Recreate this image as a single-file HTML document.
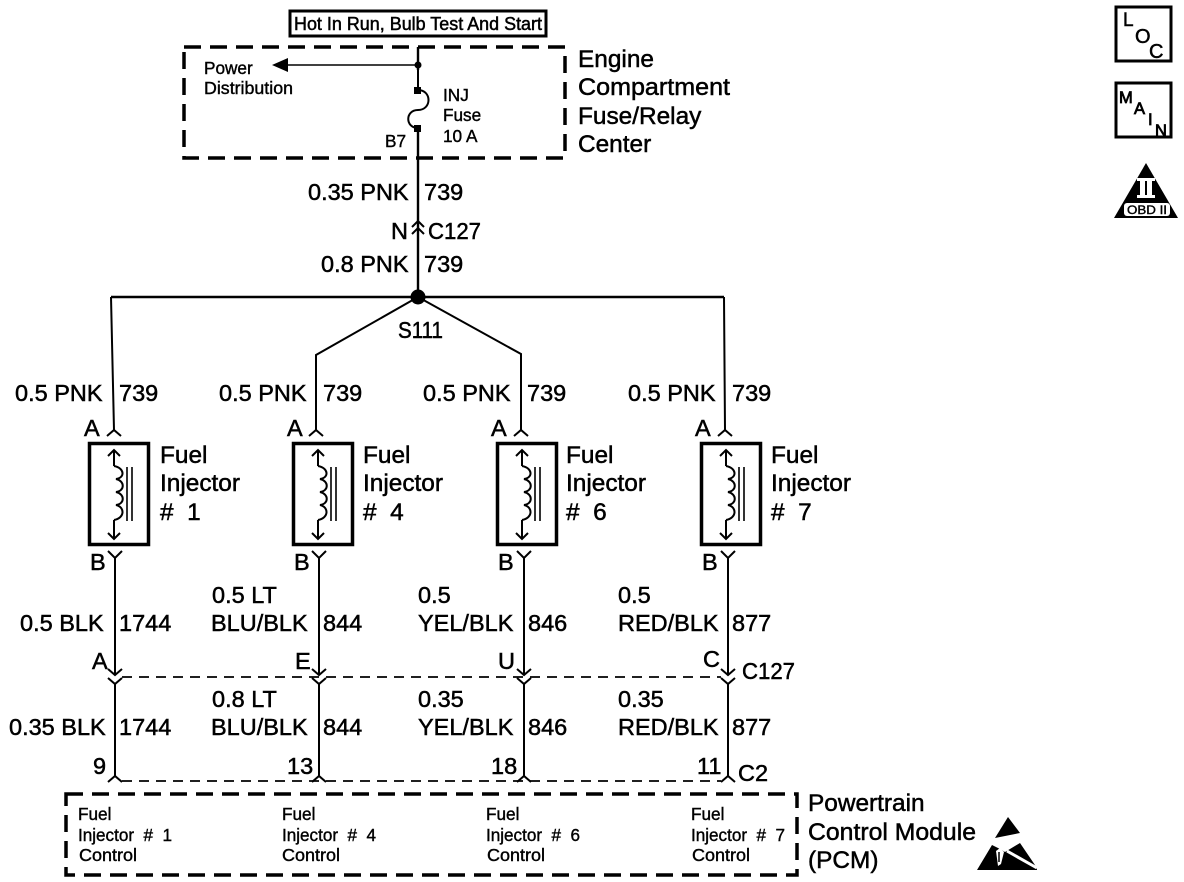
<!DOCTYPE html>
<html><head><meta charset="utf-8"><style>
html,body{margin:0;padding:0;background:#fff}
svg{display:block}
text{font-family:"Liberation Sans",sans-serif;fill:#000;stroke:#000;stroke-width:.5}
.l{font-size:24.4px}
.w{font-size:23.5px}
.s{font-size:17.2px;stroke-width:.4}
.t{font-size:18.5px}
.line{fill:none;stroke:#000;stroke-width:2}
.dash{fill:none;stroke:#000;stroke-width:1.8;stroke-dasharray:10 7}
.tdash{fill:none;stroke:#000;stroke-width:3.5;stroke-dasharray:17 9}
</style></head><body>
<svg width="1184" height="882" viewBox="0 0 1184 882" xmlns="http://www.w3.org/2000/svg">
<defs>
<g id="inj">
<rect x="1.5" y="1.5" width="59" height="101" fill="none" stroke="#000" stroke-width="3.5"/>
<path class="line" d="M26 8V24 M20 14L26 8L32 14 M26 97V78 M20 91L26 97L32 91"/>
<path class="line" d="M26 24C37 26 37 36 28 37C37 39 37 49 28 50C37 52 37 62 28 63C37 65 37 76 26 78"/>
<path class="line" style="stroke-width:1.6" d="M39 25V79 M44 25V79"/>
</g>
<g id="low">
<path class="line" d="M0 0V117 M-7 111L0 117L7 111 M-7 120L0 126L7 120 M0 126V218 M-7 224L0 218L7 224"/>
</g>
</defs>

<rect x="290" y="11" width="256" height="25" fill="none" stroke="#000" stroke-width="3"/>
<text class="t" x="294" y="30" textLength="248" lengthAdjust="spacingAndGlyphs">Hot In Run, Bulb Test And Start</text>

<rect x="184" y="47" width="381" height="111" class="tdash"/>
<path d="M418 47V297" fill="none" stroke="#000" stroke-width="2.4"/>
<rect x="412" y="70" width="12" height="62" fill="#fff"/>
<path class="line" d="M418 47V92 M418 128V160"/>
<circle cx="418" cy="65" r="3.5"/>
<rect x="414" y="87" width="7" height="7"/>
<rect x="414" y="125" width="7" height="7"/>
<path class="line" d="M418 90C432 90 432 110 418 110C405 110 405 128 418 128"/>
<path d="M418 65H286" fill="none" stroke="#000" stroke-width="1.4"/>
<path d="M272 65L288 58V72Z"/>
<text class="s" x="204" y="74">Power</text>
<text class="s" x="204" y="94" textLength="89" lengthAdjust="spacingAndGlyphs">Distribution</text>
<text class="s" x="443" y="101">INJ</text>
<text class="s" x="443" y="121">Fuse</text>
<text class="s" x="443" y="142">10 A</text>
<text class="s" x="385" y="147">B7</text>

<text class="l" x="578" y="67">Engine</text>
<text class="l" x="578" y="95" textLength="152" lengthAdjust="spacingAndGlyphs">Compartment</text>
<text class="l" x="578" y="124">Fuse/Relay</text>
<text class="l" x="578" y="152">Center</text>

<text class="w" x="308" y="200">0.35 PNK</text>
<text class="w" x="424" y="200">739</text>
<text class="w" x="391" y="239">N</text>
<text class="w" x="428" y="239" textLength="53" lengthAdjust="spacingAndGlyphs">C127</text>
<path class="line" d="M412 227L418 221L424 227 M412 234L418 228L424 234"/>
<text class="w" x="321" y="272">0.8 PNK</text>
<text class="w" x="424" y="272">739</text>

<circle cx="418" cy="297" r="7.5"/>
<path class="line" style="stroke-width:2.6" d="M111 297H724"/>
<path class="line" d="M111 297L114 430 M724 297L725 430 M418 297L316 355V430 M418 297L521 354V430"/>
<text class="w" x="398" y="338" textLength="45" lengthAdjust="spacingAndGlyphs">S111</text>

<text class="w" x="15" y="401">0.5 PNK</text><text class="w" x="119" y="401">739</text>
<text class="w" x="219" y="401">0.5 PNK</text><text class="w" x="323" y="401">739</text>
<text class="w" x="423" y="401">0.5 PNK</text><text class="w" x="527" y="401">739</text>
<text class="w" x="628" y="401">0.5 PNK</text><text class="w" x="732" y="401">739</text>

<path class="line" d="M107 436L114 430L121 436 M309 436L316 430L323 436 M514 436L521 430L528 436 M718 436L725 430L732 436"/>
<text class="w" x="84" y="436">A</text><text class="w" x="287" y="436">A</text><text class="w" x="491" y="436">A</text><text class="w" x="695" y="436">A</text>

<use href="#inj" x="88" y="442"/>
<use href="#inj" x="292" y="442"/>
<use href="#inj" x="496" y="442"/>
<use href="#inj" x="700" y="442"/>

<text class="l" x="160" y="463">Fuel</text><text class="l" x="160" y="491">Injector</text><text class="l" x="160" y="520">#&#160;&#160;1</text>
<text class="l" x="363" y="463">Fuel</text><text class="l" x="363" y="491">Injector</text><text class="l" x="363" y="520">#&#160;&#160;4</text>
<text class="l" x="566" y="463">Fuel</text><text class="l" x="566" y="491">Injector</text><text class="l" x="566" y="520">#&#160;&#160;6</text>
<text class="l" x="771" y="463">Fuel</text><text class="l" x="771" y="491">Injector</text><text class="l" x="771" y="520">#&#160;&#160;7</text>

<text class="w" x="90" y="570">B</text><text class="w" x="294" y="570">B</text><text class="w" x="498" y="570">B</text><text class="w" x="702" y="570">B</text>
<path class="line" d="M108 551L115 558L122 551 M312 551L319 558L326 551 M517 551L524 558L531 551 M721 551L728 558L735 551"/>
<use href="#low" x="115" y="558"/>
<use href="#low" x="319" y="558"/>
<use href="#low" x="524" y="558"/>
<use href="#low" x="728" y="558"/>
<path class="dash" d="M122 677H721 M122 781H721"/>

<text class="w" x="20" y="631">0.5 BLK</text><text class="w" x="119" y="631">1744</text>
<text class="w" x="212" y="603">0.5 LT</text><text class="w" x="211" y="631">BLU/BLK</text><text class="w" x="323" y="631">844</text>
<text class="w" x="418" y="603">0.5</text><text class="w" x="418" y="631">YEL/BLK</text><text class="w" x="528" y="631">846</text>
<text class="w" x="618" y="603">0.5</text><text class="w" x="618" y="631">RED/BLK</text><text class="w" x="732" y="631">877</text>

<text class="w" x="92" y="669">A</text><text class="w" x="295" y="669">E</text><text class="w" x="498" y="669">U</text><text class="w" x="703" y="667">C</text>
<text class="w" x="742" y="679" textLength="53" lengthAdjust="spacingAndGlyphs">C127</text>

<text class="w" x="9" y="735">0.35 BLK</text><text class="w" x="119" y="735">1744</text>
<text class="w" x="212" y="707">0.8 LT</text><text class="w" x="211" y="735">BLU/BLK</text><text class="w" x="323" y="735">844</text>
<text class="w" x="418" y="707">0.35</text><text class="w" x="418" y="735">YEL/BLK</text><text class="w" x="528" y="735">846</text>
<text class="w" x="618" y="707">0.35</text><text class="w" x="618" y="735">RED/BLK</text><text class="w" x="732" y="735">877</text>

<text class="w" x="93" y="774">9</text><text class="w" x="287" y="774">13</text><text class="w" x="491" y="774">18</text><text class="w" x="697" y="774">11</text>
<text class="w" x="738" y="781">C2</text>

<rect x="66" y="794" width="731" height="81" class="tdash"/>
<text class="s" x="78" y="820">Fuel</text><text class="s" x="78" y="841" textLength="94" lengthAdjust="spacingAndGlyphs">Injector&#160;&#160;#&#160;&#160;1</text><text class="s" x="79" y="861" textLength="58" lengthAdjust="spacingAndGlyphs">Control</text>
<text class="s" x="282" y="820">Fuel</text><text class="s" x="282" y="841" textLength="94" lengthAdjust="spacingAndGlyphs">Injector&#160;&#160;#&#160;&#160;4</text><text class="s" x="282" y="861" textLength="58" lengthAdjust="spacingAndGlyphs">Control</text>
<text class="s" x="486" y="820">Fuel</text><text class="s" x="486" y="841" textLength="94" lengthAdjust="spacingAndGlyphs">Injector&#160;&#160;#&#160;&#160;6</text><text class="s" x="487" y="861" textLength="58" lengthAdjust="spacingAndGlyphs">Control</text>
<text class="s" x="691" y="820">Fuel</text><text class="s" x="691" y="841" textLength="94" lengthAdjust="spacingAndGlyphs">Injector&#160;&#160;#&#160;&#160;7</text><text class="s" x="692" y="861" textLength="58" lengthAdjust="spacingAndGlyphs">Control</text>

<text class="l" x="808" y="811">Powertrain</text>
<text class="l" x="808" y="840" textLength="168" lengthAdjust="spacingAndGlyphs">Control Module</text>
<text class="l" x="808" y="868">(PCM)</text>

<path d="M1008 817L1020 833L995 838Z"/>
<path d="M977 870L992 845L1000 849L1005 852L1020 843L1037 868V870Z"/>
<path d="M1007 851L1037 868" fill="none" stroke="#fff" stroke-width="3"/>
<path d="M996 851L1000 848L1004 852L1001 864L998 866Z" fill="#fff"/>
<path d="M999 852V862" stroke="#000" stroke-width="1.5" fill="none"/>

<rect x="1116" y="7" width="55" height="54" fill="#fff" stroke="#000" stroke-width="3"/>
<text x="1123" y="26" style="font-size:19px">L</text>
<text x="1135" y="43" style="font-size:20px">O</text>
<text x="1149" y="58" style="font-size:20px">C</text>
<rect x="1116" y="83" width="55" height="54" fill="#fff" stroke="#000" stroke-width="3"/>
<text x="1119" y="103" style="font-size:16.5px;stroke-width:.8">M</text>
<text x="1134" y="114" style="font-size:16.5px;stroke-width:.8">A</text>
<text x="1148" y="125" style="font-size:16.5px;stroke-width:.8">I</text>
<text x="1155" y="136" style="font-size:16.5px;stroke-width:.8">N</text>

<path d="M1146 163L1178 218H1114Z"/>
<path d="M1137 178H1155V181H1152V195H1155V198H1137V195H1140V181H1137Z" fill="#fff"/>
<path d="M1146 181V195" stroke="#000" stroke-width="2" fill="none"/>
<rect x="1124" y="203" width="46" height="13" rx="3" fill="#fff"/>
<text x="1127" y="214" style="font-size:12px;stroke-width:.4" textLength="40" lengthAdjust="spacingAndGlyphs">OBD II</text>
</svg>
</body></html>
